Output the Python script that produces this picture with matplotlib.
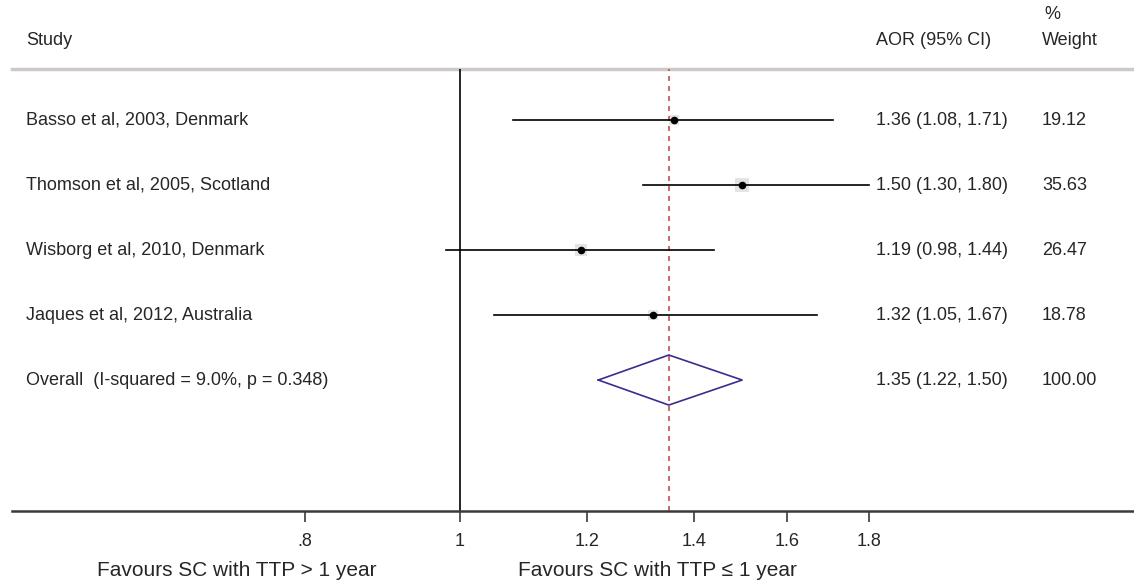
import numpy as np
import matplotlib
matplotlib.use("Agg")
import matplotlib.pyplot as plt

plt.rcParams['font.family'] = ['Liberation Sans', 'DejaVu Sans']

##### data
studies = ["Basso et al, 2003, Denmark", "Thomson et al, 2005, Scotland",
           "Wisborg et al, 2010, Denmark", "Jaques et al, 2012, Australia"]
aor = [1.36, 1.50, 1.19, 1.32]
lo = [1.08, 1.30, 0.98, 1.05]
hi = [1.71, 1.80, 1.44, 1.67]
weight = [19.12, 35.63, 26.47, 18.78]
overall = (1.35, 1.22, 1.50)
overall_label = "Overall  (I-squared = 9.0%, p = 0.348)"
ticks = [0.8, 1.0, 1.2, 1.4, 1.6, 1.8]
tick_labels = [".8", "1", "1.2", "1.4", "1.6", "1.8"]
#####

W, H = 1134, 585
fig = plt.figure(figsize=(W / 100, H / 100), dpi=100)
ax = fig.add_axes([12 / W, (H - 511) / H, 1 - 12 / W, (511 - 69) / H])
ax.set_xscale('log')
ax.set_xlim(0.5254, 2.634)
ax.set_ylim(7.015, 0.215)

txt = "#262626"
fs = 13
x_study, x_aor, x_wt = 0.0125, 0.7700, 0.9180

for s in ['top', 'right', 'left']:
    ax.spines[s].set_visible(False)
ax.spines['bottom'].set_linewidth(1.8)
ax.spines['bottom'].set_color("#3a3a3a")
ax.set_yticks([])
ax.minorticks_off()
ax.set_xticks(ticks)
ax.set_xticklabels(tick_labels, fontsize=fs, color=txt)
ax.tick_params(axis='x', length=8, width=1.2, color="#3a3a3a", pad=8)

# header line and reference lines
ax.axhline(0.215, color="#cfc8c8", lw=2.5, clip_on=False)
ax.axvline(1.0, color="black", lw=1.2)
ax.axvline(overall[0], color="#c0504d", lw=1.2, ls=(0, (3, 3)))

tr = ax.get_yaxis_transform()
rows = np.arange(1, len(studies) + 1)
for r, s, a, l, h, w in zip(rows, studies, aor, lo, hi, weight):
    ax.plot([l, h], [r, r], color="black", lw=1.2)
    ax.scatter([a], [r], s=w * 3, marker='s', color="#c4c4c4", alpha=0.45, lw=0)
    ax.scatter([a], [r], s=20, color="black", zorder=3)
    ax.text(x_study, r, s, transform=tr, fontsize=fs, color=txt, va='center')
    ax.text(x_aor, r, f"{a:.2f} ({l:.2f}, {h:.2f})", transform=tr,
            fontsize=fs, color=txt, va='center')
    ax.text(x_wt, r, f"{w:.2f}", transform=tr, fontsize=fs, color=txt, va='center')

# overall diamond
ro = len(studies) + 1
dx = [overall[1], overall[0], overall[2], overall[0], overall[1]]
dy = [ro, ro - 0.385, ro, ro + 0.385, ro]
ax.plot(dx, dy, color="#3d2c8d", lw=1.2)
ax.text(x_study, ro, overall_label, transform=tr, fontsize=fs, color=txt, va='center')
ax.text(x_aor, ro, f"{overall[0]:.2f} ({overall[1]:.2f}, {overall[2]:.2f})",
        transform=tr, fontsize=fs, color=txt, va='center')
ax.text(x_wt, ro, "100.00", transform=tr, fontsize=fs, color=txt, va='center')

# headers
ax.text(x_study, -0.23, "Study", transform=tr, fontsize=fs, color=txt, va='center')
ax.text(x_aor, -0.23, "AOR (95% CI)", transform=tr, fontsize=fs, color=txt, va='center')
ax.text(x_wt, -0.23, "Weight", transform=tr, fontsize=fs, color=txt, va='center')
ax.text(x_wt + 0.002, -0.63, "%", transform=tr, fontsize=fs, color=txt, va='center')

# favours labels
fig.text(237 / W, 1 - 570 / H, "Favours SC with TTP > 1 year", fontsize=15,
         color=txt, ha='center', va='center')
fig.text(657 / W, 1 - 570 / H, "Favours SC with TTP \u2264 1 year", fontsize=15,
         color=txt, ha='center', va='center')

fig.savefig("out.png", dpi=100)
